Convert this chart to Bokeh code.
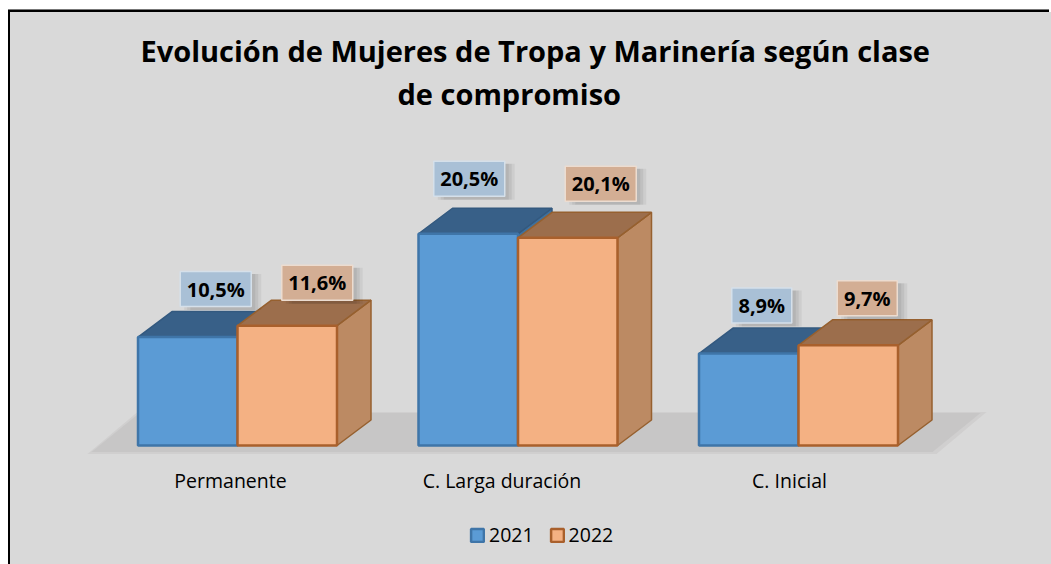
from bokeh.plotting import figure
from bokeh.embed import file_html
from bokeh.resources import INLINE
from bokeh.models import (Range1d, FixedTicker, Legend, LegendItem, Title, Label)
from bokeh.core.properties import value

# ---- data ----
categories = ["Permanente", "C. Larga duración", "C. Inicial"]
series_names = ["2021", "2022"]
values_2021 = [10.5, 20.5, 8.9]
values_2022 = [11.6, 20.1, 9.7]
labels_2021 = ["10,5%", "20,5%", "8,9%"]
labels_2022 = ["11,6%", "20,1%", "9,7%"]
title_line_1 = "Evolución de Mujeres de Tropa y Marinería según clase"
title_line_2 = "de compromiso"

# ---- layout (pixels on the page) ----
PAGE_X0, PAGE_Y0 = 10, 12
W, H = 1051 - PAGE_X0, 564 - PAGE_Y0
FRAME_TOP, FRAME_BOTTOM = 69.5, 564.5
AXIS_Y = 458
BASE_Y = 445.5
PX_PER_UNIT = 10.33
SLOT = 280.5
FIRST_CENTER = 237
BAR_PX = 99.5
DEPTH_X_PX, DEPTH_Y_PX = 34, 25.5
# label box centres relative to the front-top centre of each bar
LABEL_DX = {"2021": [28, 1, 13], "2022": [30, 33, 19]}
LABEL_DY = {"2021": [48, 55, 48], "2022": [43, 54, 47]}
CAT_LABEL_SHIFT = [-7, -16, -9]

ux = 1 / SLOT
uy = 1 / PX_PER_UNIT
bar_w = BAR_PX * ux
dx, dy = DEPTH_X_PX * ux, DEPTH_Y_PX * uy

x_start = (PAGE_X0 - FIRST_CENTER) * ux
x_end = (PAGE_X0 + W - FIRST_CENTER) * ux
y_start = (BASE_Y - FRAME_BOTTOM) * uy
y_end = (BASE_Y - FRAME_TOP) * uy

BG = "#d9d9d9"
p = figure(width=W, height=H, output_backend="svg", toolbar_location=None,
           x_range=Range1d(x_start, x_end), y_range=Range1d(y_start, y_end),
           frame_height=int(FRAME_BOTTOM - FRAME_TOP),
           min_border=0, min_border_left=0, min_border_right=0,
           background_fill_color=None, border_fill_color=None, outline_line_color=None)
p.grid.visible = False
p.yaxis.visible = False
p.margin = (PAGE_Y0, 0, 0, PAGE_X0)
# chart border: top and left edges only; the grey sits on the page element so no seams show
p.styles = {"background-color": BG,
            "box-shadow": "0 8px 0 0 " + BG + ", -2px 8px 0 0 #000, -2px -2px 0 0 #000, -2px -3px 0 0 #777"}

# title: first line in the title panel, second line placed under it
p.add_layout(Title(text=title_line_1, align="left", offset=140 - PAGE_X0, text_font="Open Sans",
                   text_font_size="29px", text_font_style="bold", text_color="black", standoff=0), "above")
p.add_layout(Title(text=" ", text_font_size="12px", standoff=0), "above")
p.add_layout(Label(x=(397 - FIRST_CENTER) * ux, y=(BASE_Y - 93) * uy, text=title_line_2,
                   text_font="Open Sans", text_font_size="29px", text_font_style="bold",
                   text_color="black", text_baseline="alphabetic"))

# axis carrying the category names
ax = p.xaxis[0]
ax.fixed_location = (BASE_Y - AXIS_Y) * uy
ax.ticker = FixedTicker(ticks=[i + s * ux for i, s in enumerate(CAT_LABEL_SHIFT)])
ax.major_label_overrides = {i + s * ux: c for (i, s), c in zip(enumerate(CAT_LABEL_SHIFT), categories)}
ax.axis_line_color = None
ax.major_tick_line_color = None
ax.minor_tick_line_color = None
ax.major_label_text_font = "Open Sans"
ax.major_label_text_font_size = "19.5px"
ax.major_label_text_color = "black"
ax.major_label_standoff = 3

# floor
fl_l, fl_r = (91 - FIRST_CENTER) * ux, (932 - FIRST_CENTER) * ux
fl_low = (BASE_Y - 452) * uy
fl_high = (BASE_Y - 413) * uy
fl_dx = 48 * ux
p.patch([fl_l - 4 * ux, fl_r + 4 * ux, fl_r + fl_dx + 6 * ux, fl_l + fl_dx - 2 * ux],
        [fl_low - 2 * uy, fl_low - 2 * uy, fl_high + 1 * uy, fl_high + 1 * uy],
        fill_color="#d0cfcf", line_color=None)
p.patch([fl_l, fl_r, fl_r + fl_dx, fl_l + fl_dx], [fl_low, fl_low, fl_high, fl_high],
        fill_color="#c7c6c6", line_color=None)

styles = {
    "2021": dict(front="#5b9bd5", top="#386088", side="#3f709c", edge="#3f75a8", tope="#33597f",
                 box="#a9c0d6", box_edge="#d5e0ea"),
    "2022": dict(front="#f4b183", top="#9c6e4c", side="#bc8a63", edge="#a9602c", tope="#96602f",
                 box="#d3ae94", box_edge="#ecdcd0"),
}

front_renderers = []
for k, (name, vals) in enumerate(zip(series_names, [values_2021, values_2022])):
    st = styles[name]
    lefts = [i - bar_w + k * bar_w for i in range(len(vals))]
    rights = [l + bar_w for l in lefts]
    p.patches([[r, r + dx, r + dx, r] for r in rights],
              [[0, dy, v + dy, v] for v in vals],
              fill_color=st["side"], line_color=st["tope"], line_width=1.5)
    p.patches([[l, r, r + dx, l + dx] for l, r in zip(lefts, rights)],
              [[v, v, v + dy, v + dy] for v in vals],
              fill_color=st["top"], line_color=st["tope"], line_width=1.5)
    fr = p.patches([[l, r, r, l] for l, r in zip(lefts, rights)],
                   [[0, 0, v, v] for v in vals],
                   fill_color=st["front"], line_color=st["edge"], line_width=2.5)
    front_renderers.append(fr)

# data labels
for k, (name, vals, texts) in enumerate(zip(series_names, [values_2021, values_2022],
                                            [labels_2021, labels_2022])):
    st = styles[name]
    xs = [i - bar_w / 2 + k * bar_w + d * ux for i, d in enumerate(LABEL_DX[name])]
    ys = [v + d * uy for v, d in zip(vals, LABEL_DY[name])]
    ws = [(71 if len(t) == 5 else 60) * ux for t in texts]
    for off, a in [(10, 0.05), (7, 0.06), (4, 0.06)]:
        p.rect([x + off * ux for x in xs], [y - 3 * uy for y in ys], width=ws, height=36 * uy,
               fill_color="#000000", fill_alpha=a, line_color=None)
    p.rect(xs, ys, width=ws, height=35 * uy, fill_color=st["box"], line_color=st["box_edge"], line_width=1.5)
    p.text(xs, ys, text=texts, text_font=value("Open Sans"), text_font_style="bold",
           text_font_size="20px", text_color="black", text_align="center", text_baseline="middle")

# legend
legend = Legend(items=[LegendItem(label=n, renderers=[r]) for n, r in zip(series_names, front_renderers)],
                orientation="horizontal", location=(459, 16), background_fill_alpha=0, border_line_color=None,
                label_text_font="Open Sans", label_text_font_size="19.5px", label_text_color="black",
                glyph_width=16, glyph_height=16, label_standoff=4, spacing=15, margin=0, padding=0,
                label_height=20)
p.add_layout(legend)

open("out.html", "w").write(file_html(p, INLINE))
